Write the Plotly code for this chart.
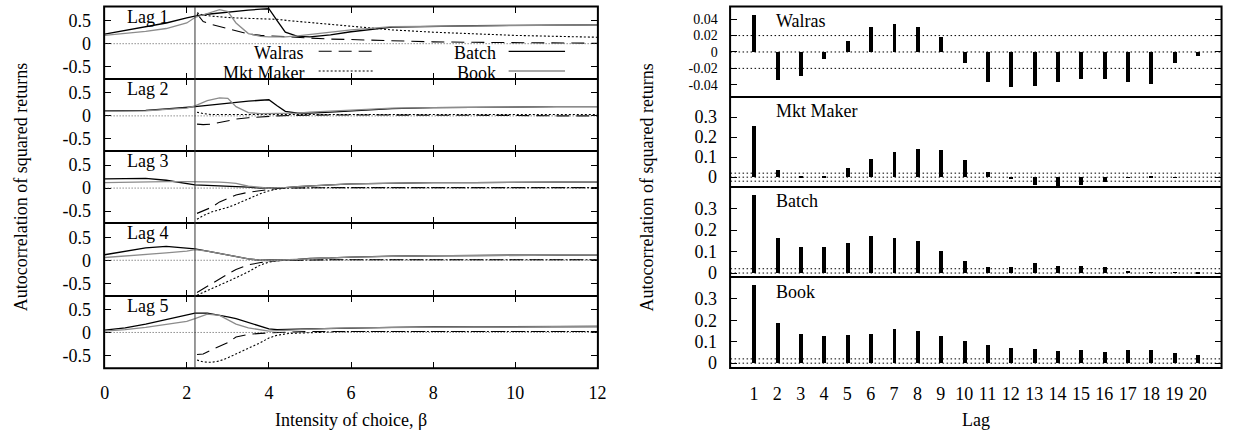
import plotly.graph_objects as go

# ---------------- data: autocorrelation vs intensity of choice ----------------
beta_lo = [0, 0.5, 1, 1.5, 2, 2.2, 2.5, 2.8, 3.0, 3.2, 3.5, 3.8, 4.0, 4.2, 4.4,
           4.7, 5, 5.5, 6, 7, 8, 9, 10, 11, 12]
beta_hi = [2.25, 2.4, 2.6, 2.8, 3.0, 3.2, 3.5, 3.8, 4.0, 4.2, 4.5, 5, 5.5, 6,
           7, 8, 9, 10, 11, 12]
beta_threshold = 2.2

batch = [
    [0.21, 0.29, 0.37, 0.45, 0.56, 0.60, 0.64, 0.67, 0.69, 0.71, 0.73, 0.75, 0.76,
     0.50, 0.25, 0.16, 0.15, 0.19, 0.26, 0.36, 0.38, 0.39, 0.40, 0.40, 0.41],
    [0.11, 0.11, 0.12, 0.15, 0.18, 0.20, 0.23, 0.26, 0.28, 0.30, 0.32, 0.34, 0.35,
     0.22, 0.10, 0.06, 0.06, 0.08, 0.11, 0.16, 0.18, 0.19, 0.20, 0.20, 0.20],
    [0.20, 0.21, 0.21, 0.17, 0.10, 0.07, 0.06, 0.05, 0.05, 0.04, 0.02, 0.00, 0.00,
     0.00, 0.01, 0.03, 0.05, 0.07, 0.09, 0.11, 0.12, 0.12, 0.13, 0.13, 0.13],
    [0.12, 0.20, 0.27, 0.30, 0.27, 0.25, 0.20, 0.15, 0.12, 0.08, 0.03, 0.00, 0.00,
     0.00, 0.01, 0.02, 0.04, 0.05, 0.07, 0.09, 0.10, 0.10, 0.11, 0.11, 0.11],
    [0.05, 0.10, 0.18, 0.28, 0.38, 0.42, 0.42, 0.38, 0.34, 0.30, 0.22, 0.13, 0.08,
     0.06, 0.06, 0.07, 0.08, 0.09, 0.10, 0.11, 0.12, 0.12, 0.12, 0.13, 0.13],
]
book = [
    [0.18, 0.22, 0.27, 0.33, 0.45, 0.57, 0.66, 0.74, 0.70, 0.45, 0.22, 0.16, 0.15,
     0.15, 0.15, 0.17, 0.20, 0.25, 0.30, 0.37, 0.38, 0.39, 0.40, 0.40, 0.41],
    [0.10, 0.10, 0.11, 0.14, 0.17, 0.22, 0.33, 0.39, 0.38, 0.20, 0.07, 0.05, 0.05,
     0.05, 0.05, 0.06, 0.08, 0.10, 0.13, 0.17, 0.18, 0.19, 0.20, 0.20, 0.20],
    [0.12, 0.13, 0.14, 0.14, 0.14, 0.14, 0.13, 0.13, 0.12, 0.10, 0.04, 0.01, 0.00,
     0.01, 0.01, 0.03, 0.05, 0.07, 0.09, 0.11, 0.12, 0.12, 0.13, 0.13, 0.13],
    [0.06, 0.09, 0.12, 0.16, 0.20, 0.23, 0.20, 0.15, 0.12, 0.08, 0.03, 0.00, -0.01,
     0.00, 0.01, 0.02, 0.04, 0.05, 0.07, 0.09, 0.10, 0.10, 0.11, 0.11, 0.11],
    [0.03, 0.06, 0.11, 0.17, 0.24, 0.30, 0.40, 0.37, 0.28, 0.18, 0.10, 0.05, 0.03,
     0.04, 0.05, 0.06, 0.08, 0.09, 0.10, 0.11, 0.12, 0.12, 0.12, 0.13, 0.13],
]
walras = [
    [0.65, 0.48, 0.42, 0.37, 0.32, 0.28, 0.21, 0.18, 0.17, 0.16, 0.15, 0.12, 0.10,
     0.09, 0.06, 0.04, 0.03, 0.02, 0.015, 0.01],
    [-0.18, -0.19, -0.18, -0.14, -0.10, -0.07, -0.04, -0.02, -0.01, 0.00, 0.01,
     0.02, 0.02, 0.02, 0.02, 0.01, 0.01, 0.01, 0.00, 0.00],
    [-0.55, -0.50, -0.42, -0.30, -0.22, -0.15, -0.09, -0.05, -0.03, -0.01, 0.00,
     0.01, 0.01, 0.01, 0.01, 0.01, 0.01, 0.01, 0.01, 0.01],
    [-0.70, -0.62, -0.50, -0.40, -0.30, -0.20, -0.10, -0.05, -0.03, -0.01, 0.00,
     0.01, 0.01, 0.01, 0.01, 0.01, 0.01, 0.01, 0.01, 0.01],
    [-0.48, -0.47, -0.38, -0.30, -0.22, -0.10, -0.04, -0.02, -0.01, 0.00, 0.01,
     0.02, 0.02, 0.02, 0.02, 0.02, 0.02, 0.02, 0.02, 0.02],
]
mkt_maker = [
    [0.67, 0.62, 0.60, 0.58, 0.57, 0.56, 0.55, 0.55, 0.54, 0.53, 0.50, 0.46, 0.42,
     0.38, 0.30, 0.25, 0.21, 0.18, 0.16, 0.14],
    [0.08, 0.05, 0.03, 0.03, 0.03, 0.04, 0.04, 0.04, 0.04, 0.04, 0.03, 0.03, 0.03,
     0.03, 0.03, 0.03, 0.03, 0.03, 0.03, 0.03],
    [-0.68, -0.60, -0.52, -0.47, -0.42, -0.35, -0.23, -0.12, -0.06, -0.02, 0.00,
     0.01, 0.01, 0.01, 0.01, 0.01, 0.01, 0.01, 0.01, 0.01],
    [-0.76, -0.70, -0.62, -0.55, -0.47, -0.38, -0.25, -0.10, -0.04, -0.01, 0.00,
     0.01, 0.01, 0.01, 0.01, 0.01, 0.01, 0.01, 0.01, 0.01],
    [-0.60, -0.64, -0.65, -0.62, -0.55, -0.47, -0.35, -0.22, -0.12, -0.06, -0.02,
     0.00, 0.01, 0.02, 0.02, 0.02, 0.02, 0.02, 0.02, 0.02],
]

# ---------------- data: autocorrelation by lag ----------------
lags = list(range(1, 21))
acf_walras = [0.045, -0.034, -0.029, -0.009, 0.014, 0.030, 0.034, 0.030, 0.019,
              -0.013, -0.037, -0.043, -0.041, -0.036, -0.033, -0.033, -0.036,
              -0.039, -0.013, -0.005]
acf_mkt_maker = [0.254, 0.038, 0.002, 0.006, 0.045, 0.090, 0.127, 0.139, 0.137,
                 0.088, 0.025, -0.010, -0.040, -0.048, -0.038, -0.023, -0.003,
                 0.001, -0.002, 0.000]
acf_batch = [0.365, 0.163, 0.122, 0.119, 0.140, 0.174, 0.163, 0.148, 0.100, 0.053,
             0.029, 0.025, 0.046, 0.034, 0.031, 0.029, 0.005, 0.002, 0.001, -0.002]
acf_book = [0.362, 0.185, 0.135, 0.127, 0.132, 0.135, 0.156, 0.150, 0.127, 0.100,
            0.082, 0.070, 0.065, 0.055, 0.059, 0.050, 0.062, 0.059, 0.044, 0.036]
conf_band = 0.02

# ---------------- layout helpers ----------------
W, H = 1236, 436
FONT = "Liberation Serif"
FS = 18


def fx(p):
    return p / W


def fy(p):
    return 1 - p / H


fig = go.Figure()
layout = dict(
    width=W, height=H, margin=dict(l=0, r=0, t=0, b=0),
    paper_bgcolor="white", plot_bgcolor="white", showlegend=False,
    font=dict(family=FONT, size=FS, color="black"),
)
shapes = []
annotations = []

axis_common = dict(showline=True, linecolor="black", linewidth=1, mirror="ticks",
                   ticks="inside", ticklen=6, tickwidth=1, tickcolor="black",
                   showgrid=False, zeroline=False,
                   tickfont=dict(family=FONT, size=FS, color="black"))

# left block: five stacked panels
L_X0, L_X1 = 101.7, 599.7
TOP = 7
LH = 73.2
for i in range(5):
    n = i + 1
    sx = "" if n == 1 else str(n)
    y_top = TOP + i * LH
    y_bot = y_top + LH
    layout["xaxis" + sx] = dict(
        axis_common, domain=[fx(L_X0), fx(L_X1)], anchor="y" + sx, range=[0, 12],
        tickvals=[0, 2, 4, 6, 8, 10, 12],
        ticktext=["0", "2", "4", "6", "8", "10", "12"],
        showticklabels=(n == 5), ticklabelstandoff=9,
    )
    layout["yaxis" + sx] = dict(
        axis_common, domain=[fy(y_bot), fy(y_top)], anchor="x" + sx,
        range=[-0.77, 0.8], tickvals=[-0.5, 0, 0.5], ticktext=["-0.5", "0", "0.5"],
        ticklabelstandoff=9,
    )
    xr, yr = "x" + sx, "y" + sx
    fig.add_trace(go.Scatter(x=beta_hi, y=walras[i], mode="lines", xaxis=xr, yaxis=yr,
                             line=dict(color="black", width=1.1, dash="13px,7px")))
    fig.add_trace(go.Scatter(x=beta_hi, y=mkt_maker[i], mode="lines", xaxis=xr, yaxis=yr,
                             line=dict(color="black", width=1.1, dash="2px,2px")))
    fig.add_trace(go.Scatter(x=beta_lo, y=batch[i], mode="lines", xaxis=xr, yaxis=yr,
                             line=dict(color="black", width=1.3)))
    fig.add_trace(go.Scatter(x=beta_lo, y=book[i], mode="lines", xaxis=xr, yaxis=yr,
                             line=dict(color="#8c8c8c", width=1.3)))
    shapes.append(dict(type="line", xref=xr + " domain", yref=yr, x0=0, x1=1, y0=0, y1=0,
                       line=dict(color="#555555", width=1, dash="1px,2px")))
    annotations.append(dict(text=f"Lag {n}", xref="paper", yref="paper",
                            x=fx(145), y=fy(y_top + 10), showarrow=False,
                            xanchor="center", yanchor="middle",
                            font=dict(family=FONT, size=FS)))

# outer frame of the left block
shapes.append(dict(type="rect", xref="paper", yref="paper",
                   x0=fx(L_X0 - 0.5), x1=fx(L_X1 + 0.5),
                   y0=fy(TOP + 5 * LH + 0.5), y1=fy(TOP - 0.5),
                   line=dict(color="black", width=2)))

# vertical marker across the left panels
shapes.append(dict(type="line", xref="x", yref="paper", x0=beta_threshold, x1=beta_threshold,
                   y0=fy(TOP + 5 * LH), y1=fy(TOP),
                   line=dict(color="#333333", width=1)))

# legend inside the first panel
legend_rows = [
    ("Walras", 305, 318, 373, 52, dict(color="black", width=1.1, dash="13px,7px")),
    ("Mkt Maker", 305, 318, 373, 72, dict(color="black", width=1.1, dash="2px,2px")),
    ("Batch", 499, 510, 567, 52, dict(color="black", width=1.3)),
    ("Book", 499, 510, 567, 72, dict(color="#8c8c8c", width=1.3)),
]
for label, tx, sx0, sx1, ly, lstyle in legend_rows:
    annotations.append(dict(text=label, xref="paper", yref="paper", x=fx(tx), y=fy(ly + 2),
                            showarrow=False, xanchor="right", yanchor="middle",
                            font=dict(family=FONT, size=FS)))
    shapes.append(dict(type="line", xref="paper", yref="paper", x0=fx(sx0), x1=fx(sx1),
                       y0=fy(ly), y1=fy(ly), line=lstyle))

# right block: four stacked panels
R_X0, R_X1 = 734.3, 1230
RH = 91.4
right_panels = [
    ("Walras", acf_walras, [-0.055, 0.055], [-0.04, -0.02, 0, 0.02, 0.04],
     ["-0.04", "-0.02", "0", "0.02", "0.04"], 14),
    ("Mkt Maker", acf_mkt_maker, [-0.05, 0.4], [0, 0.1, 0.2, 0.3],
     ["0", "0.1", "0.2", "0.3"], FS),
    ("Batch", acf_batch, [-0.02, 0.4], [0, 0.1, 0.2, 0.3],
     ["0", "0.1", "0.2", "0.3"], FS),
    ("Book", acf_book, [-0.02, 0.4], [0, 0.1, 0.2, 0.3],
     ["0", "0.1", "0.2", "0.3"], FS),
]
for j, (name, vals, yrange, tv, tt, tfs) in enumerate(right_panels):
    n = 6 + j
    sx = str(n)
    y_top = TOP + j * RH
    y_bot = y_top + RH
    layout["xaxis" + sx] = dict(
        axis_common, domain=[fx(R_X0), fx(R_X1)], anchor="y" + sx, range=[0, 21],
        ticks="", tickvals=lags, ticktext=[str(v) for v in lags],
        showticklabels=(j == 3), ticklabelstandoff=10,
    )
    layout["yaxis" + sx] = dict(
        axis_common, domain=[fy(y_bot), fy(y_top)], anchor="x" + sx,
        range=yrange, tickvals=tv, ticktext=tt, ticklabelstandoff=9,
        tickfont=dict(family=FONT, size=tfs, color="black"),
    )
    xr, yr = "x" + sx, "y" + sx
    for lvl in (-conf_band, 0, conf_band):
        shapes.append(dict(type="line", xref=xr + " domain", yref=yr, x0=0, x1=1,
                           y0=lvl, y1=lvl, layer="below",
                           line=dict(color="black", width=1, dash="1.5px,2.5px")))
    fig.add_trace(go.Bar(x=lags, y=vals, xaxis=xr, yaxis=yr, width=0.17,
                         marker=dict(color="black", line=dict(width=0))))
    annotations.append(dict(text=name, xref="paper", yref="paper", x=fx(778),
                            y=fy(y_top + 14.5), showarrow=False, xanchor="left",
                            yanchor="middle", font=dict(family=FONT, size=FS)))

# outer frame of the right block
shapes.append(dict(type="rect", xref="paper", yref="paper",
                   x0=fx(R_X0 - 0.5), x1=fx(R_X1 + 0.5),
                   y0=fy(TOP + 4 * RH + 0.5), y1=fy(TOP - 0.5),
                   line=dict(color="black", width=2)))

# axis titles
annotations += [
    dict(text="Autocorrelation of squared returns", xref="paper", yref="paper",
         x=fx(18), y=fy(190), textangle=-90, showarrow=False,
         xanchor="center", yanchor="middle", font=dict(family=FONT, size=FS)),
    dict(text="Autocorrelation of squared returns", xref="paper", yref="paper",
         x=fx(650), y=fy(190), textangle=-90, showarrow=False,
         xanchor="center", yanchor="middle", font=dict(family=FONT, size=FS)),
    dict(text="Intensity of choice, β", xref="paper", yref="paper",
         x=fx(350.7), y=fy(426), showarrow=False,
         xanchor="center", yanchor="middle", font=dict(family=FONT, size=FS)),
    dict(text="Lag", xref="paper", yref="paper",
         x=fx(982), y=fy(426), showarrow=False,
         xanchor="center", yanchor="middle", font=dict(family=FONT, size=FS)),
]

layout["shapes"] = shapes
layout["annotations"] = annotations
layout["bargap"] = 0
fig.update_layout(**layout)
fig.write_html("out.html")
